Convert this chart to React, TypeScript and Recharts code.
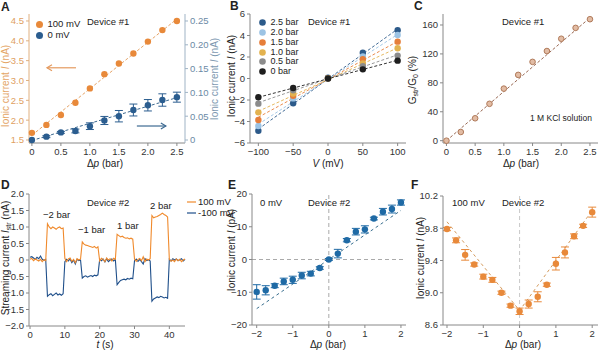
import React from "react";
import { ComposedChart, Scatter, Line, XAxis, YAxis, ErrorBar, ReferenceLine, Legend } from "recharts";

const FONT = "'Liberation Sans', Arial, Helvetica, sans-serif";

// A: ionic current vs pressure, device #1
const dpA = [0, 0.25, 0.5, 0.75, 1.0, 1.25, 1.5, 1.75, 2.0, 2.25, 2.5];
const iA100 = [1.68, 1.88, 2.13, 2.44, 2.8, 3.16, 3.43, 3.68, 3.98, 4.27, 4.5];
const iA0 = [0, 0.007, 0.016, 0.019, 0.029, 0.041, 0.05, 0.063, 0.073, 0.084, 0.09];
const errA0 = [0, 0.002, 0.002, 0.004, 0.007, 0.0085, 0.012, 0.0125, 0.012, 0.013, 0.0105];
const fitA100 = [1.62, 4.55];
const fitA0 = [-0.001, 0.089];

// B: I-V curves at several pressures
const vB = [-100, -50, 0, 50, 100];
const namesB = ["2.5 bar", "2.0 bar", "1.5 bar", "1.0 bar", "0.5 bar", "0 bar"];
const colorsB = ["#2c5a8a", "#9cc3e4", "#e67e3a", "#e3b24f", "#8c8c8c", "#1e1e1e"];
const iB = [
  [-4.86, -2.3, 0.08, 2.4, 4.5],
  [-4.42, -1.85, 0.05, 2.05, 4.05],
  [-3.86, -1.6, 0.03, 1.8, 3.43],
  [-3.15, -1.4, 0.02, 1.4, 2.81],
  [-2.34, -1.1, 0.0, 1.15, 2.13],
  [-1.75, -0.88, 0.0, 0.85, 1.66],
];
const fitBlo = [-4.7, -4.25, -3.6, -3.05, -2.25, -1.75];
const fitBhi = [4.6, 4.1, 3.45, 2.85, 2.2, 1.7];

// C: conductance ratio
const gC = [0, 12, 31, 51, 72, 91, 109, 124, 141, 156, 168];
const fitC = [0, 170];

// D: streaming current traces
const tD = [
  0, 0.5, 1, 1.5, 2, 2.5, 3, 3.5, 4, 4.5, 5, 5.5, 6, 6.5, 7, 7.5, 8, 8.5, 9, 9.5,
  10, 10.5, 11, 11.5, 12, 12.5, 13, 13.5, 14, 14.5, 15, 15.5, 16, 16.5, 17, 17.5, 18, 18.5, 19, 19.5,
  20, 20.5, 21, 21.5, 22, 22.5, 23, 23.5, 24, 24.5, 25, 25.5, 26, 26.5, 27, 27.5, 28, 28.5, 29, 29.5,
  30, 30.5, 31, 31.5, 32, 32.5, 33, 33.5, 34, 34.5, 35, 35.5, 36, 36.5, 37, 37.5, 38, 38.5, 39, 39.5,
  40, 40.5, 41, 41.5, 42, 42.5, 43, 43.5, 44, 44.5,
];
const iD100 = [
  0.02, 0.05, -0.02, 0.03, 0.0, -0.03, 0.02, -0.05, 0.01, -0.02, 1.1, 1.0, 0.95, 1.0, 0.97, 0.93, 0.98, 1.0, 0.95, 0.97,
  0.05, -0.05, 0.03, 0.06, -0.04, 0.02, -0.08, 0.04, 0.0, 0.03, 0.55, 0.48, 0.45, 0.44, 0.42, 0.4, 0.38, 0.41, 0.36, 0.4,
  -0.03, 0.05, 0.02, -0.05, 0.06, 0.0, 0.04, -0.03, 0.05, 0.02, 0.78, 0.74, 0.7, 0.72, 0.68, 0.66, 0.67, 0.64, 0.66, 0.63,
  0.03, -0.04, 0.02, 0.05, -0.02, 0.1, -0.05, 0.03, 0.0, 0.04, 1.35, 1.28, 1.3, 1.32, 1.35, 1.38, 1.42, 1.38, 1.35, 1.3,
  0.02, -0.04, 0.0, -0.05, 0.03, -0.02, 0.02, -0.05, 0.0, 0.03,
];
const iDm100 = [
  0.08, 0.1, 0.06, 0.02, 0.08, 0.04, 0.12, 0.02, -0.01, 0.02, -1.1, -1.05, -1.02, -1.08, -1.04, -1.0, -1.06, -1.03, -1.07, -1.02,
  -0.05, 0.02, -0.03, 0.03, -0.08, 0.0, -0.12, 0.02, -0.02, 0.0, -0.55, -0.5, -0.48, -0.52, -0.49, -0.47, -0.5, -0.46, -0.48, -0.45,
  0.02, -0.02, 0.03, -0.06, 0.04, -0.05, 0.0, 0.03, -0.03, 0.02, -0.75, -0.68, -0.62, -0.6, -0.58, -0.6, -0.56, -0.58, -0.55, -0.57,
  -0.02, 0.03, -0.04, 0.02, -0.05, -0.12, 0.04, -0.02, 0.01, -0.03, -1.25, -1.18, -1.15, -1.12, -1.14, -1.1, -1.12, -1.15, -1.13, -1.16,
  0.02, -0.03, 0.04, 0.0, 0.03, -0.02, 0.01, 0.04, -0.03, 0.02,
];

// E, F: device #2
const dpE = [-2, -1.75, -1.5, -1.25, -1, -0.75, -0.5, -0.25, 0, 0.25, 0.5, 0.75, 1, 1.25, 1.5, 1.75, 2];
const iE = [-9.9, -9.4, -8.0, -6.7, -6.2, -4.9, -4.3, -2.6, 0, 1.8, 5.9, 8.5, 9.2, 12.5, 14.6, 15.4, 17.4];
const errE = [2.2, 1.4, 0.6, 1.0, 1.1, 1.0, 0.7, 0.4, 0.3, 1.3, 0.5, 1.0, 1.1, 0.4, 1.0, 1.2, 0.8];
const fitE = [-15, 15];
const iF = [9.79, 9.65, 9.47, 9.35, 9.2, 9.16, 9.0, 8.84, 8.77, 8.86, 8.95, 9.1, 9.36, 9.5, 9.7, 9.83, 10.0];
const errF = [0.02, 0.03, 0.066, 0.02, 0.03, 0.03, 0.02, 0.02, 0.04, 0.05, 0.062, 0.02, 0.078, 0.068, 0.03, 0.02, 0.062];
const fitFx = [-2, 0, 2];
const fitF = [9.88, 8.78, 10.02];

const pts = (xs: number[], ys: number[], es?: number[]) =>
  xs.map((x, i) => ({ x, y: ys[i], e: es ? es[i] : 0 }));

const tick = { fontSize: 9.5, fill: "#333", fontFamily: FONT };
const frame = { stroke: "#888" };
const minus = (v: number) => (v < 0 ? "\u2212" + Math.abs(v) : String(v));
const fmt1 = (v: number) => (v === 0 ? "0" : (v < 0 ? "\u2212" : "") + Math.abs(v).toFixed(1));
const fmt2 = (v: number) => (v === 0 ? "0" : v.toFixed(2));

const dot = (r: number) => (p: any) =>
  p.cx == null ? <g /> : <circle cx={p.cx} cy={p.cy} r={r} fill={p.fill} stroke={p.stroke || "none"} />;

const arrow = (color: string) => (p: any) => {
  const { x1, y1, x2, y2 } = p;
  const d = Math.sign(x2 - x1);
  return (
    <g>
      <line x1={x1} y1={y1} x2={x2} y2={y2} stroke={color} strokeWidth={1.2} />
      <path d={`M${x2 - d * 5},${y2 - 3} L${x2},${y2} L${x2 - d * 5},${y2 + 3}`} fill="none" stroke={color} strokeWidth={1.2} />
    </g>
  );
};

const legendDots = (order: string[], rowH: number, r: number, size: number) => (props: any) => {
  const payload: any[] = props.payload || [];
  return (
    <div style={{ fontFamily: FONT, fontSize: size, color: "#222", lineHeight: 1 }}>
      {order.map((name) => {
        const p = payload.find((q) => q.value === name);
        return (
          <div key={name} style={{ display: "flex", alignItems: "center", height: rowH }}>
            <svg width={9} height={9} style={{ display: "block" }}>
              <circle cx={4.5} cy={4.5} r={r} fill={p ? p.color : "#000"} />
            </svg>
            <span style={{ marginLeft: 4, whiteSpace: "nowrap" }}>{name}</span>
          </div>
        );
      })}
    </div>
  );
};

const legendLines = (order: string[], rowH: number) => (props: any) => {
  const payload: any[] = props.payload || [];
  return (
    <div style={{ fontFamily: FONT, fontSize: 9.5, color: "#222", lineHeight: 1 }}>
      {order.map((name) => {
        const p = payload.find((q) => q.value === name);
        return (
          <div key={name} style={{ display: "flex", alignItems: "center", height: rowH }}>
            <svg width={9} height={4} style={{ display: "block" }}>
              <line x1={0} y1={2} x2={9} y2={2} stroke={p ? p.color : "#000"} strokeWidth={1.2} />
            </svg>
            <span style={{ marginLeft: 2, whiteSpace: "nowrap" }}>{name}</span>
          </div>
        );
      })}
    </div>
  );
};

function Note({ x, y, children, size = 9.5, color = "#222", bold = false }: any) {
  return (
    <div style={{ position: "absolute", left: x, top: y, transform: "translateY(-50%)", fontSize: size, color, fontWeight: bold ? 700 : 400, whiteSpace: "nowrap", lineHeight: 1 }}>
      {children}
    </div>
  );
}

function VLabel({ x, y, children, color = "#222" }: any) {
  return (
    <div style={{ position: "absolute", left: x, top: y, transform: "translate(-50%,-50%) rotate(-90deg)", fontSize: 10, color, whiteSpace: "nowrap", lineHeight: 1 }}>
      {children}
    </div>
  );
}

function HLabel({ x, y, children }: any) {
  return (
    <div style={{ position: "absolute", left: x, top: y, transform: "translate(-50%,-50%)", fontSize: 10, color: "#222", whiteSpace: "nowrap", lineHeight: 1 }}>
      {children}
    </div>
  );
}

const sub = { fontSize: 7, verticalAlign: "-2px" } as const;

function Box({ left, top, children }: any) {
  return <div style={{ position: "absolute", left, top }}>{children}</div>;
}

export default function App() {
  const orange = "#e8893a";
  const blueA = "#2b5d8f";
  const dataD = tD.map((x, i) => ({ x, o: iD100[i], b: iDm100[i] }));

  return (
    <div style={{ position: "absolute", left: 0, top: 0, width: 600, height: 352, background: "#fff", fontFamily: FONT, overflow: "hidden" }}>
      {/* A */}
      <Box left={0} top={0}>
        <ComposedChart width={230} height={176} margin={{ top: 14, right: 0, bottom: 0, left: 0 }}>
          <XAxis dataKey="x" type="number" domain={[-0.05, 2.64]} ticks={[0, 0.5, 1, 1.5, 2, 2.5]} tickFormatter={fmt1} height={33} tick={tick} tickSize={3} axisLine={frame} tickLine={frame} />
          <XAxis xAxisId="top" orientation="top" type="number" domain={[0, 1]} height={0} tick={false} tickLine={false} axisLine={frame} />
          <YAxis yAxisId="l" dataKey="y" type="number" domain={[1.424, 4.676]} ticks={[1.5, 2, 2.5, 3, 3.5, 4, 4.5]} tickFormatter={fmt1} width={29} tick={{ ...tick, fill: "#e0a060" }} tickSize={3} axisLine={{ stroke: "#e0b080" }} tickLine={{ stroke: "#e0b080" }} />
          <YAxis yAxisId="r" dataKey="y" orientation="right" type="number" domain={[-0.0063, 0.2647]} ticks={[0, 0.05, 0.1, 0.15, 0.2, 0.25]} tickFormatter={fmt2} width={45} tick={{ ...tick, fill: "#6b8aa5" }} tickSize={3} axisLine={{ stroke: "#9fb3c5" }} tickLine={{ stroke: "#9fb3c5" }} />
          <Line yAxisId="l" data={[{ x: 0, y: fitA100[0] }, { x: 2.5, y: fitA100[1] }]} dataKey="y" stroke="#e6a468" strokeDasharray="3 2" dot={false} legendType="none" isAnimationActive={false} />
          <Line yAxisId="r" data={[{ x: 0, y: fitA0[0] }, { x: 2.5, y: fitA0[1] }]} dataKey="y" stroke="#3c6990" strokeDasharray="3 2" dot={false} legendType="none" isAnimationActive={false} />
          <Scatter yAxisId="l" name="100 mV" data={pts(dpA, iA100)} fill={orange} shape={dot(3.2)} isAnimationActive={false} />
          <Scatter yAxisId="r" name="0 mV" data={pts(dpA, iA0, errA0)} fill={blueA} shape={dot(3.2)} isAnimationActive={false}>
            <ErrorBar dataKey="e" direction="y" width={4} stroke={blueA} strokeWidth={1} />
          </Scatter>
          <ReferenceLine yAxisId="l" segment={[{ x: 0.76, y: 3.32 }, { x: 0.26, y: 3.32 }]} shape={arrow("#e49a5f")} />
          <ReferenceLine yAxisId="r" segment={[{ x: 1.81, y: 0.0294 }, { x: 2.31, y: 0.0294 }]} shape={arrow("#3d6a92")} />
          <Legend layout="horizontal" verticalAlign="middle" align="center" wrapperStyle={{ left: 34.5, top: 18.5, width: "auto" }} content={legendDots(["100 mV", "0 mV"], 11, 3.5, 9.5)} />
        </ComposedChart>
      </Box>

      {/* B */}
      <Box left={195} top={0}>
        <ComposedChart width={211} height={176} margin={{ top: 14, right: 0, bottom: 0, left: 0 }}>
          <XAxis dataKey="x" type="number" domain={[-112, 112]} ticks={[-100, -50, 0, 50, 100]} tickFormatter={minus} height={33} tick={tick} tickSize={3} axisLine={frame} tickLine={frame} />
          <XAxis xAxisId="top" orientation="top" type="number" domain={[0, 1]} height={0} tick={false} tickLine={false} axisLine={frame} />
          <YAxis dataKey="y" type="number" domain={[-6, 6]} ticks={[-6, -4, -2, 0, 2, 4, 6]} tickFormatter={minus} width={55} tick={tick} tickSize={3} axisLine={frame} tickLine={frame} />
          <YAxis yAxisId="fr" orientation="right" type="number" domain={[0, 1]} width={0} tick={false} tickLine={false} axisLine={frame} />
          {namesB.map((n, k) => (
            <Line key={"f" + n} data={[{ x: -100, y: fitBlo[k] }, { x: 100, y: fitBhi[k] }]} dataKey="y" stroke={colorsB[k]} strokeDasharray="3 2" strokeWidth={0.9} dot={false} legendType="none" isAnimationActive={false} />
          ))}
          {namesB.map((n, k) => (
            <Scatter key={n} name={n} data={pts(vB, iB[k])} fill={colorsB[k]} shape={dot(3.2)} isAnimationActive={false} />
          ))}
          <Legend layout="horizontal" verticalAlign="middle" align="center" wrapperStyle={{ left: 62.5, top: 17.8, width: "auto" }} content={legendDots(namesB, 9.8, 3.3, 9)} />
        </ComposedChart>
      </Box>

      {/* C */}
      <Box left={400} top={0}>
        <ComposedChart width={200} height={176} margin={{ top: 14, right: 2, bottom: 0, left: 0 }}>
          <XAxis dataKey="x" type="number" domain={[-0.06, 2.64]} ticks={[0, 0.5, 1, 1.5, 2, 2.5]} tickFormatter={fmt1} height={33} tick={tick} tickSize={3} axisLine={frame} tickLine={frame} />
          <XAxis xAxisId="top" orientation="top" type="number" domain={[0, 1]} height={0} tick={false} tickLine={false} axisLine={frame} />
          <YAxis dataKey="y" type="number" domain={[-3.2, 175.2]} ticks={[0, 40, 80, 120, 160]} width={43} tick={tick} tickSize={3} axisLine={frame} tickLine={frame} />
          <YAxis yAxisId="fr" orientation="right" type="number" domain={[0, 1]} width={0} tick={false} tickLine={false} axisLine={frame} />
          <Line data={[{ x: 0, y: fitC[0] }, { x: 2.5, y: fitC[1] }]} dataKey="y" stroke="#9a6a55" strokeDasharray="3 2" dot={false} legendType="none" isAnimationActive={false} />
          <Scatter name="G" data={pts(dpA, gC)} fill="#e2bca4" stroke="#b07a5a" shape={dot(2.8)} isAnimationActive={false} />
        </ComposedChart>
      </Box>

      {/* D */}
      <Box left={0} top={176}>
        <ComposedChart width={231} height={176} data={dataD} margin={{ top: 18, right: 46, bottom: 0, left: 0 }}>
          <XAxis dataKey="x" type="number" domain={[-0.3, 44.3]} ticks={[0, 10, 20, 30, 40]} height={26} tick={tick} tickSize={3} axisLine={frame} tickLine={frame} />
          <XAxis xAxisId="top" orientation="top" type="number" domain={[0, 1]} height={0} tick={false} tickLine={false} axisLine={frame} />
          <YAxis type="number" domain={[-2, 2]} ticks={[-2, -1.5, -1, -0.5, 0, 0.5, 1, 1.5, 2]} tickFormatter={fmt1} width={29} tick={tick} tickSize={3} axisLine={frame} tickLine={frame} />
          <YAxis yAxisId="fr" orientation="right" type="number" domain={[0, 1]} width={0} tick={false} tickLine={false} axisLine={frame} />
          <Line name="-100 mV" dataKey="b" stroke="#1f4f8a" strokeWidth={1.1} dot={false} isAnimationActive={false} />
          <Line name="100 mV" dataKey="o" stroke="#f08a2c" strokeWidth={1.1} dot={false} isAnimationActive={false} />
          <Legend layout="horizontal" verticalAlign="middle" align="center" wrapperStyle={{ left: 187, top: 20.5, width: "auto" }} content={legendLines(["100 mV", "-100 mV"], 11)} />
        </ComposedChart>
      </Box>

      {/* E */}
      <Box left={195} top={176}>
        <ComposedChart width={211} height={176} margin={{ top: 18, right: 0, bottom: 0, left: 0 }}>
          <XAxis dataKey="x" type="number" domain={[-2.13, 2.14]} ticks={[-2, -1, 0, 1, 2]} tickFormatter={minus} height={27} tick={tick} tickSize={3} axisLine={frame} tickLine={frame} />
          <XAxis xAxisId="top" orientation="top" type="number" domain={[0, 1]} height={0} tick={false} tickLine={false} axisLine={frame} />
          <YAxis dataKey="y" type="number" domain={[-20, 20]} ticks={[-20, -10, 0, 10, 20]} tickFormatter={minus} width={57} tick={tick} tickSize={3} axisLine={frame} tickLine={frame} />
          <YAxis yAxisId="fr" orientation="right" type="number" domain={[0, 1]} width={0} tick={false} tickLine={false} axisLine={frame} />
          <ReferenceLine y={0} stroke="#aaa" strokeDasharray="4 3" />
          <ReferenceLine x={0} stroke="#aaa" strokeDasharray="4 3" />
          <Line data={[{ x: -2, y: fitE[0] }, { x: 2, y: fitE[1] }]} dataKey="y" stroke="#3a6f8f" strokeDasharray="3 3" dot={false} legendType="none" isAnimationActive={false} />
          <Scatter name="0 mV" data={pts(dpE, iE, errE)} fill="#1f6aa5" shape={dot(3.2)} isAnimationActive={false}>
            <ErrorBar dataKey="e" direction="y" width={4} stroke="#1f6aa5" strokeWidth={1} />
          </Scatter>
        </ComposedChart>
      </Box>

      {/* F */}
      <Box left={400} top={176}>
        <ComposedChart width={200} height={176} margin={{ top: 20, right: 2, bottom: 0, left: 0 }}>
          <XAxis dataKey="x" type="number" domain={[-2.11, 2.16]} ticks={[-2, -1, 0, 1, 2]} tickFormatter={minus} height={27} tick={tick} tickSize={3} axisLine={frame} tickLine={frame} />
          <XAxis xAxisId="top" orientation="top" type="number" domain={[0, 1]} height={0} tick={false} tickLine={false} axisLine={frame} />
          <YAxis dataKey="y" type="number" domain={[8.6, 10.2]} ticks={[8.6, 9, 9.4, 9.8, 10.2]} tickFormatter={(v: number) => v.toFixed(1)} width={43} tick={tick} tickSize={3} axisLine={frame} tickLine={frame} />
          <YAxis yAxisId="fr" orientation="right" type="number" domain={[0, 1]} width={0} tick={false} tickLine={false} axisLine={frame} />
          <ReferenceLine x={0} stroke="#c8c8c8" strokeDasharray="4 3" />
          <Line data={fitFx.map((x, i) => ({ x, y: fitF[i] }))} dataKey="y" stroke="#d49a5c" strokeDasharray="3 3" dot={false} legendType="none" isAnimationActive={false} />
          <Scatter name="100 mV" data={pts(dpE, iF, errF)} fill={orange} shape={dot(3.2)} isAnimationActive={false}>
            <ErrorBar dataKey="e" direction="y" width={4} stroke={orange} strokeWidth={1} />
          </Scatter>
        </ComposedChart>
      </Box>

      {/* panel letters */}
      <Note x={1} y={7} size={12} bold>A</Note>
      <Note x={230} y={6} size={12} bold>B</Note>
      <Note x={414} y={6} size={12} bold>C</Note>
      <Note x={1} y={185} size={12} bold>D</Note>
      <Note x={228} y={185} size={12} bold>E</Note>
      <Note x={411} y={185} size={12} bold>F</Note>

      {/* annotations */}
      <Note x={87} y={22}>Device #1</Note>
      <Note x={308} y={22}>Device #1</Note>
      <Note x={502} y={22}>Device #1</Note>
      <Note x={530} y={118} size={8.5}>1 M KCl solution</Note>
      <Note x={87} y={203}>Device #2</Note>
      <Note x={43} y={215}>{"\u22122 bar"}</Note>
      <Note x={78} y={230}>{"\u22121 bar"}</Note>
      <Note x={117} y={226}>1 bar</Note>
      <Note x={150} y={206}>2 bar</Note>
      <Note x={260} y={203}>0 mV</Note>
      <Note x={308} y={203}>Device #2</Note>
      <Note x={452} y={203}>100 mV</Note>
      <Note x={502} y={203}>Device #2</Note>

      {/* axis titles */}
      <VLabel x={6} y={86} color="#e4a565">Ionic current <i>I</i> (nA)</VLabel>
      <VLabel x={215} y={79} color="#7d98b0">Ionic current <i>I</i> (nA)</VLabel>
      <VLabel x={232} y={76}>Ionic current <i>I</i> (nA)</VLabel>
      <VLabel x={413} y={80}>G<span style={sub}>str</span>/G<span style={sub}>0</span> (%)</VLabel>
      <VLabel x={6} y={258}>Streaming current <i>I</i><span style={sub}>str</span> (nA)</VLabel>
      <VLabel x={232} y={250}>Ionic current <i>I</i> (pA)</VLabel>
      <VLabel x={421} y={258}>Ionic current <i>I</i> (nA)</VLabel>
      <HLabel x={105} y={164}>Δ<i>p</i> (bar)</HLabel>
      <HLabel x={328} y={164}><i>V</i> (mV)</HLabel>
      <HLabel x={521} y={164}>Δ<i>p</i> (bar)</HLabel>
      <HLabel x={105} y={345}><i>t</i> (s)</HLabel>
      <HLabel x={328} y={345}>Δ<i>p</i> (bar)</HLabel>
      <HLabel x={523} y={345}>Δ<i>p</i> (bar)</HLabel>
    </div>
  );
}
